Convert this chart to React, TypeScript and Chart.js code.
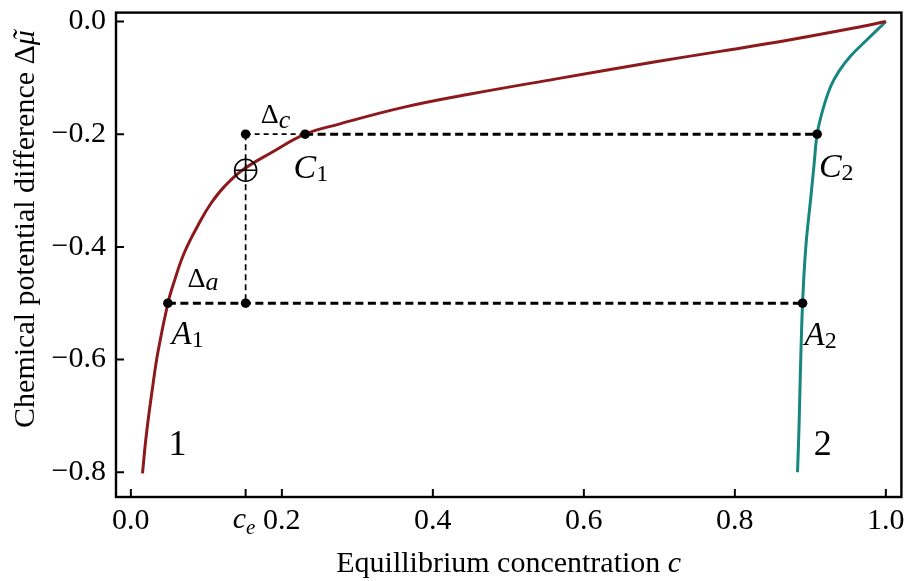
import { useEffect, useRef } from 'react';
import { Chart, registerables } from 'chart.js';

Chart.register(...registerables);

// Branch 1 (dark red): equilibrium concentration vs chemical potential difference
const branch1C = [0.0154, 0.0206, 0.0293, 0.0359, 0.049, 0.0556, 0.0709, 0.0929, 0.106, 0.1235, 0.1475, 0.187, 0.2308, 0.2745, 0.362, 0.4496, 0.5635, 0.695, 0.7825, 0.87, 0.9576, 1.0];
const branch1Mu = [-0.802, -0.732, -0.644, -0.586, -0.5, -0.469, -0.41, -0.352, -0.323, -0.2935, -0.264, -0.232, -0.2, -0.1825, -0.152, -0.1287, -0.1018, -0.0714, -0.0526, -0.0333, -0.0117, 0.0];

// Branch 2 (teal)
const branch2C = [0.883, 0.885, 0.8866, 0.8897, 0.894, 0.9007, 0.905, 0.909, 0.916, 0.927, 0.938, 0.953, 0.975, 1.0];
const branch2Mu = [-0.8, -0.72, -0.633, -0.5, -0.4, -0.311, -0.2526, -0.2, -0.159, -0.115, -0.088, -0.0616, -0.0324, 0.0];

// Construction points
const cE = 0.152;
const levelC = -0.2;
const levelA = -0.5;
const c1 = 0.2308;
const c2 = 0.909;
const a1 = 0.049;
const a2 = 0.8897;
const muE = -0.264;

// Axis ticks
const xTickValues = [0, cE, 0.2, 0.4, 0.6, 0.8, 1.0];
const yTickValues = [-0.8, -0.6, -0.4, -0.2, 0];

const SERIF = '"Liberation Serif", "Times New Roman", serif';
const RED = '#8c1a1c';
const TEAL = '#17867f';

type Run = { t: string; size: number; italic?: boolean; dy?: number };
type Note = { x: number; y: number; runs: Run[] };

// Point labels anchored at their baseline-left corner in data coordinates
const notes: Note[] = [
  { x: 0.1721, y: -0.1807, runs: [{ t: 'Δ', size: 28 }, { t: 'c', size: 26, italic: true, dy: 5 }] },
  { x: 0.2154, y: -0.2772, runs: [{ t: 'C', size: 34, italic: true }, { t: '1', size: 24, dy: 3 }] },
  { x: 0.9113, y: -0.2754, runs: [{ t: 'C', size: 34, italic: true }, { t: '2', size: 24, dy: 3 }] },
  { x: 0.0539, y: -0.5719, runs: [{ t: 'A', size: 33, italic: true }, { t: '1', size: 24, dy: 3 }] },
  { x: 0.8923, y: -0.5737, runs: [{ t: 'A', size: 33, italic: true }, { t: '2', size: 24, dy: 3 }] },
  { x: 0.0749, y: -0.4719, runs: [{ t: 'Δ', size: 28 }, { t: 'a', size: 26, italic: true, dy: 3 }] },
  { x: 0.0499, y: -0.7702, runs: [{ t: '1', size: 36 }] },
  { x: 0.9046, y: -0.7702, runs: [{ t: '2', size: 36 }] },
];

function fontOf(r: Run) {
  return `${r.italic ? 'italic ' : ''}${r.size}px ${SERIF}`;
}

function runsWidth(ctx: CanvasRenderingContext2D, runs: Run[]) {
  let w = 0;
  for (const r of runs) {
    ctx.font = fontOf(r);
    w += ctx.measureText(r.t).width;
  }
  return w;
}

function drawRuns(ctx: CanvasRenderingContext2D, x: number, y: number, runs: Run[]) {
  let cx = x;
  for (const r of runs) {
    ctx.font = fontOf(r);
    ctx.fillText(r.t, cx, y + (r.dy ?? 0));
    cx += ctx.measureText(r.t).width;
  }
  return cx;
}

const framePlugin = {
  id: 'frameAndNotes',
  afterDraw(chart: any) {
    const { ctx, chartArea } = chart;
    const { left, right, top, bottom } = chartArea;
    const xs = chart.scales.x;
    const ys = chart.scales.y;
    ctx.save();
    ctx.strokeStyle = '#000';
    ctx.fillStyle = '#000';

    // frame
    ctx.lineWidth = 2.4;
    ctx.strokeRect(left, top, right - left, bottom - top);

    // inward tick marks on the bottom and left edges
    ctx.lineWidth = 2;
    ctx.beginPath();
    for (const v of xTickValues) {
      const px = xs.getPixelForValue(v);
      ctx.moveTo(px, bottom);
      ctx.lineTo(px, bottom - 8);
    }
    for (const v of yTickValues) {
      const py = ys.getPixelForValue(v);
      ctx.moveTo(left, py);
      ctx.lineTo(left + 8, py);
    }
    ctx.stroke();

    ctx.textAlign = 'left';
    ctx.textBaseline = 'alphabetic';

    // c_e tick label
    const ceX = xs.getPixelForValue(cE);
    drawRuns(ctx, ceX - 13, bottom + 31, [
      { t: 'c', size: 30, italic: true },
      { t: 'e', size: 21, italic: true, dy: 6 },
    ]);

    // point and branch labels
    for (const n of notes) {
      drawRuns(ctx, xs.getPixelForValue(n.x), ys.getPixelForValue(n.y), n.runs);
    }

    // x-axis title
    const xTitle: Run[] = [
      { t: 'Equillibrium concentration ', size: 30 },
      { t: 'c', size: 30, italic: true },
    ];
    const xw = runsWidth(ctx, xTitle);
    drawRuns(ctx, (left + right) / 2 - xw / 2, 572, xTitle);

    // y-axis title, with a tilde set over the italic mu
    const yHead: Run[] = [{ t: 'Chemical potential difference Δ', size: 30 }];
    const mu: Run = { t: 'μ', size: 30, italic: true };
    const yw = runsWidth(ctx, yHead) + runsWidth(ctx, [mu]);
    ctx.translate(34, 229);
    ctx.rotate(-Math.PI / 2);
    const muX = drawRuns(ctx, -yw / 2, 0, yHead);
    ctx.font = fontOf(mu);
    const muW = ctx.measureText('μ').width;
    ctx.fillText('μ', muX, 0);
    ctx.textAlign = 'center';
    ctx.fillText('\u02DC', muX + muW * 0.62, -1);

    ctx.restore();
  },
};

const fmtTick = (v: number) => (Math.abs(v) < 1e-9 ? '0.0' : v.toFixed(1).replace('-', '\u2212'));

export default function App() {
  const ref = useRef<HTMLCanvasElement | null>(null);

  useEffect(() => {
    if (!ref.current) return;
    const line = (xs: number[], ys: number[]) => xs.map((x, i) => ({ x, y: ys[i] }));

    const chart = new Chart(ref.current, {
      type: 'scatter',
      data: {
        datasets: [
          {
            label: 'points',
            data: [
              { x: cE, y: levelC },
              { x: c1, y: levelC },
              { x: c2, y: levelC },
              { x: a1, y: levelA },
              { x: cE, y: levelA },
              { x: a2, y: levelA },
            ],
            pointRadius: 4.8,
            pointBackgroundColor: '#000',
            pointBorderWidth: 0,
            showLine: false,
            order: 0,
          },
          {
            label: 'equilibrium circle',
            data: [{ x: cE, y: muE }],
            pointStyle: 'circle',
            pointRadius: 11,
            pointBackgroundColor: 'rgba(0,0,0,0)',
            pointBorderColor: '#000',
            pointBorderWidth: 1.6,
            showLine: false,
            order: 1,
          },
          {
            label: 'equilibrium cross',
            data: [{ x: cE, y: muE }],
            pointStyle: 'cross',
            pointRadius: 11,
            pointBorderColor: '#000',
            pointBorderWidth: 1.6,
            showLine: false,
            order: 1,
          },
          {
            label: 'branch 1',
            data: line(branch1C, branch1Mu),
            showLine: true,
            borderColor: RED,
            borderWidth: 3,
            pointRadius: 0,
            tension: 0.4,
            order: 2,
          },
          {
            label: 'branch 2',
            data: line(branch2C, branch2Mu),
            showLine: true,
            borderColor: TEAL,
            borderWidth: 3,
            pointRadius: 0,
            tension: 0.4,
            order: 2,
          },
          {
            label: 'C level fine',
            data: [{ x: cE, y: levelC }, { x: c1, y: levelC }],
            showLine: true,
            borderColor: '#000',
            borderWidth: 1.7,
            borderDash: [5, 4],
            pointRadius: 0,
            order: 3,
          },
          {
            label: 'C level',
            data: [{ x: c1, y: levelC }, { x: c2, y: levelC }],
            showLine: true,
            borderColor: '#000',
            borderWidth: 3,
            borderDash: [8, 4.5],
            pointRadius: 0,
            order: 3,
          },
          {
            label: 'A level',
            data: [{ x: a1, y: levelA }, { x: a2, y: levelA }],
            showLine: true,
            borderColor: '#000',
            borderWidth: 3,
            borderDash: [8, 4.5],
            pointRadius: 0,
            order: 3,
          },
          {
            label: 'c_e vertical',
            data: [{ x: cE, y: levelC }, { x: cE, y: levelA }],
            showLine: true,
            borderColor: '#000',
            borderWidth: 1.7,
            borderDash: [6, 4],
            pointRadius: 0,
            order: 3,
          },
        ],
      },
      options: {
        animation: false,
        responsive: false,
        maintainAspectRatio: false,
        layout: { padding: { left: 0, top: 7, right: 6, bottom: 0 } },
        plugins: {
          legend: { display: false },
          tooltip: { enabled: false },
        },
        scales: {
          x: {
            type: 'linear',
            min: -0.0197,
            max: 1.0206,
            grid: { display: false, drawTicks: false },
            border: { display: false },
            afterBuildTicks: (s: any) => {
              s.ticks = xTickValues.map((v) => ({ value: v }));
            },
            afterFit: (s: any) => {
              s.height = 84;
              s.paddingLeft = 0;
              s.paddingRight = 0;
            },
            ticks: {
              autoSkip: false,
              maxRotation: 0,
              padding: 6,
              color: '#000',
              font: { family: SERIF, size: 30 },
              callback: (v: any) => (Math.abs(Number(v) - cE) < 1e-9 ? '' : Number(v).toFixed(1)),
            },
          },
          y: {
            type: 'linear',
            min: -0.8439,
            max: 0.0158,
            grid: { display: false, drawTicks: false },
            border: { display: false },
            afterBuildTicks: (s: any) => {
              s.ticks = yTickValues.map((v) => ({ value: v }));
            },
            afterFit: (s: any) => {
              s.width = 116;
              s.paddingTop = 0;
              s.paddingBottom = 0;
            },
            ticks: {
              autoSkip: false,
              padding: 10,
              color: '#000',
              font: { family: SERIF, size: 30 },
              callback: (v: any) => fmtTick(Number(v)),
            },
          },
        },
      },
      plugins: [framePlugin],
    });
    return () => chart.destroy();
  }, []);

  return (
    <div style={{ position: 'fixed', left: 0, top: 0, width: 914, height: 581, background: '#fff' }}>
      <canvas ref={ref} width={914} height={581} style={{ width: 914, height: 581, display: 'block' }} />
    </div>
  );
}
